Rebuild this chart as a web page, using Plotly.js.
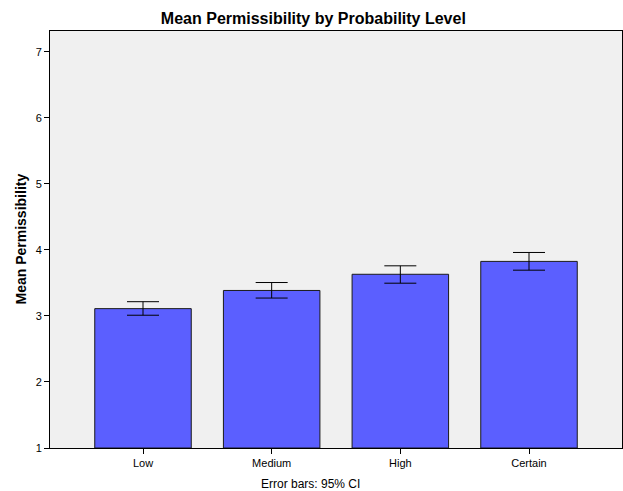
<!DOCTYPE html>
<html>
<head>
<meta charset="utf-8">
<script src="https://cdn.plot.ly/plotly-3.0.1.min.js"></script>
<style>html,body{margin:0;padding:0;background:#fff;}#chart{width:623px;height:491px;}</style>
</head>
<body>
<div id="chart"></div>
<script>
var categories = ["Low", "Medium", "High", "Certain"];
var means = [3.11, 3.385, 3.63, 3.825];
var ciUpper = [3.215, 3.505, 3.758, 3.96];
var ciLower = [3.01, 3.27, 3.495, 3.692];
var yTicks = [1, 2, 3, 4, 5, 6, 7];

var errPlus = means.map(function(m, i){ return ciUpper[i] - m; });
var errMinus = means.map(function(m, i){ return m - ciLower[i]; });

var FONT = "Arial, 'Liberation Sans', sans-serif";

var trace = {
  type: "bar",
  x: categories,
  y: means.map(function(m){ return m - 1; }),
  base: 1,
  width: 0.75,
  marker: {color: "#5b5fff", line: {color: "#1a1a1a", width: 1}},
  error_y: {type: "data", symmetric: false, array: errPlus, arrayminus: errMinus,
            color: "#000000", thickness: 1, width: 16},
  hoverinfo: "none"
};

var layout = {
  width: 623, height: 491,
  margin: {l: 50, r: 1, t: 31, b: 43},
  paper_bgcolor: "#ffffff",
  plot_bgcolor: "#f0f0f0",
  showlegend: false,
  font: {family: FONT, color: "#000000", size: 11},
  title: {text: "<b>Mean Permissibility by Probability Level</b>",
          font: {family: FONT, size: 16, color: "#000000"},
          x: 0.503, xanchor: "center", y: 1 - 18/491, yanchor: "middle", yref: "container"},
  xaxis: {
    type: "category",
    range: [-0.7228, 3.7228],
    showline: true, linecolor: "#000000", linewidth: 1, mirror: true,
    ticks: "outside", ticklen: 5, tickcolor: "#000000",
    showgrid: false, zeroline: false,
    tickfont: {family: FONT, size: 11, color: "#000000"}
  },
  yaxis: {
    range: [1, 7.313],
    tickvals: yTicks,
    ticktext: yTicks.map(String),
    showline: true, linecolor: "#000000", linewidth: 1, mirror: true,
    ticks: "outside", ticklen: 5, tickcolor: "#000000",
    showgrid: false, zeroline: false,
    tickfont: {family: FONT, size: 11, color: "#000000"}
  },
  annotations: [
    {text: "<b>Mean Permissibility</b>", textangle: -90, xref: "paper", yref: "paper",
     x: (20 - 50) / 572, y: 0.5, xanchor: "center", yanchor: "middle", showarrow: false,
     font: {family: FONT, size: 14, color: "#000000"}},
    {text: "Error bars: 95% CI", xref: "paper", yref: "paper",
     x: (310 - 50) / 572, y: (448.3 - 484) / 417.3, xanchor: "center", yanchor: "middle", showarrow: false,
     font: {family: FONT, size: 12, color: "#000000"}}
  ]
};

Plotly.newPlot("chart", [trace], layout, {displayModeBar: false, staticPlot: true});
</script>
</body>
</html>
